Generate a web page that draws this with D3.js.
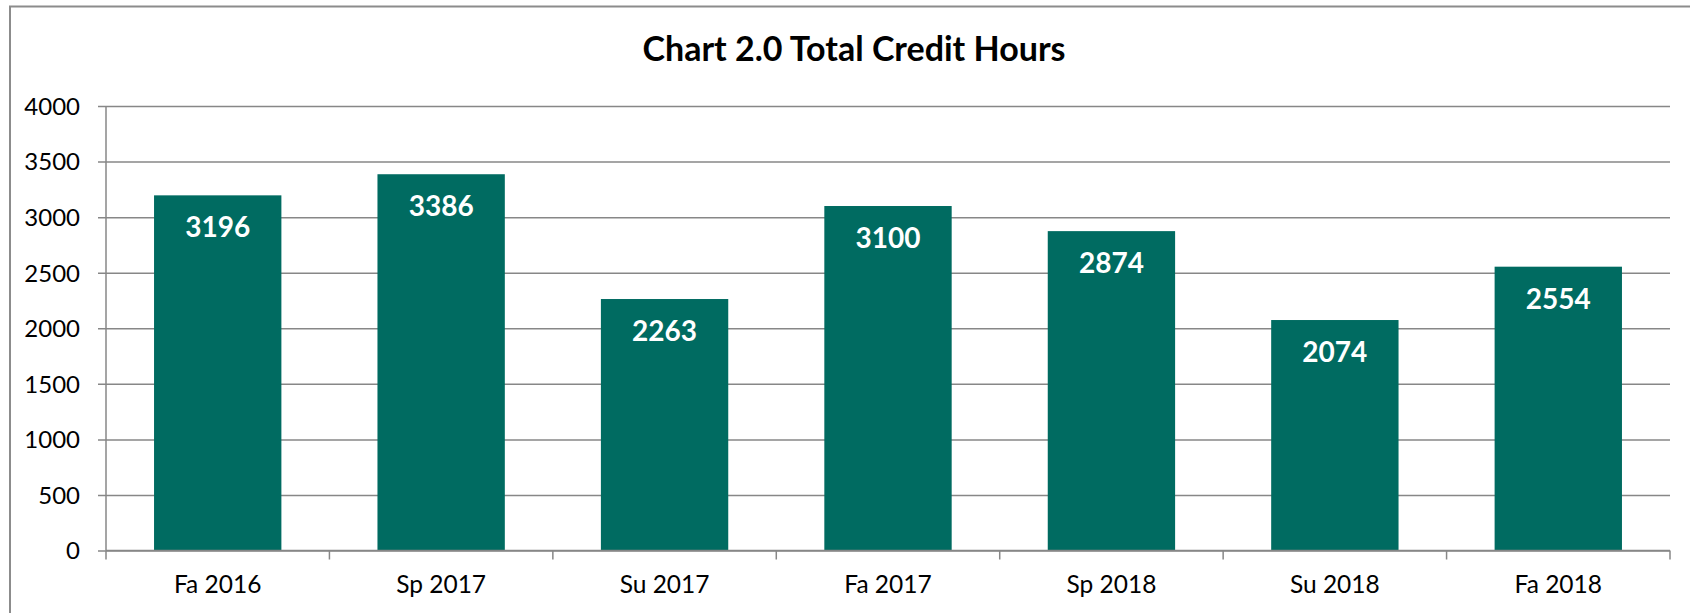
<!DOCTYPE html>
<html>
<head>
<meta charset="utf-8">
<script src="https://cdn.jsdelivr.net/npm/d3@7"></script>
<style>
html,body{margin:0;padding:0;background:#fff;overflow:hidden;}
svg{display:block;}
</style>
</head>
<body>
<svg id="chart" width="1690" height="613"></svg>
<script>
const categories = ["Fa 2016","Sp 2017","Su 2017","Fa 2017","Sp 2018","Su 2018","Fa 2018"];
const values = [3196, 3386, 2263, 3100, 2874, 2074, 2554];
const yTicks = [0,500,1000,1500,2000,2500,3000,3500,4000];
const title = "Chart 2.0 Total Credit Hours";

(function () {
const FONT = "Lato, 'Liberation Sans', sans-serif";
const svg = d3.select("#chart");

// outer chart border (right/bottom lie outside the window)
svg.append("rect")
  .attr("x", 10).attr("y", 6.5).attr("width", 1688).attr("height", 640)
  .attr("fill", "#fff").attr("stroke", "#8c8c8c").attr("stroke-width", 2);

const pLeft = 106, pRight = 1670, pTop = 106, pBottom = 550.5;

const x = d3.scaleBand().domain(categories).range([pLeft, pRight])
  .paddingInner(0.43).paddingOuter(0.215);
const y = d3.scaleLinear().domain([0, 4000]).range([pBottom, pTop]);

// gridlines + y axis ticks
const yAxis = d3.axisLeft(y).tickValues(yTicks).tickFormat(d3.format("d"))
  .tickSize(-(pRight - pLeft)).tickSizeOuter(0);
const gy = svg.append("g").attr("transform", `translate(${pLeft},0)`).call(yAxis);
gy.select(".domain").remove();
gy.selectAll(".tick line").attr("stroke", "#878787").attr("stroke-width", 1.5).attr("x1", -8);
gy.selectAll(".tick text").attr("font-family", FONT).attr("font-size", 24).attr("fill", "#000")
  .attr("x", -26).attr("dy", "0.35em");

// y axis line
svg.append("line").attr("x1", pLeft).attr("x2", pLeft).attr("y1", pTop).attr("y2", pBottom)
  .attr("stroke", "#878787").attr("stroke-width", 1.5);

// bars
svg.append("g").selectAll("rect").data(values).join("rect")
  .attr("x", (d, i) => x(categories[i]))
  .attr("width", x.bandwidth())
  .attr("y", d => y(d))
  .attr("height", d => y(0) - y(d))
  .attr("fill", "#006b61");

// x axis line and boundary ticks
svg.append("line").attr("x1", pLeft).attr("x2", pRight).attr("y1", pBottom).attr("y2", pBottom)
  .attr("stroke", "#878787").attr("stroke-width", 1.5);
const step = x.step();
const bounds = d3.range(categories.length + 1).map(i => pLeft + i * step);
svg.append("g").selectAll("line").data(bounds).join("line")
  .attr("x1", d => d).attr("x2", d => d).attr("y1", pBottom).attr("y2", pBottom + 9)
  .attr("stroke", "#878787").attr("stroke-width", 1.5);

// x labels
svg.append("g").selectAll("text").data(categories).join("text")
  .attr("x", d => x(d) + x.bandwidth() / 2)
  .attr("y", 592.5)
  .attr("text-anchor", "middle")
  .attr("font-family", FONT).attr("font-size", 24.5).attr("fill", "#000")
  .text(d => d);

// data labels
svg.append("g").selectAll("text").data(values).join("text")
  .attr("x", (d, i) => x(categories[i]) + x.bandwidth() / 2)
  .attr("y", d => y(d) + 42)
  .attr("text-anchor", "middle")
  .attr("font-family", FONT).attr("font-weight", "bold").attr("font-size", 28).attr("fill", "#fff")
  .text(d => d);

// title
svg.append("text").attr("x", 854).attr("y", 61).attr("text-anchor", "middle")
  .attr("font-family", FONT).attr("font-weight", "bold").attr("font-size", 34).attr("fill", "#000")
  .text(title);
})();
</script>
</body>
</html>
